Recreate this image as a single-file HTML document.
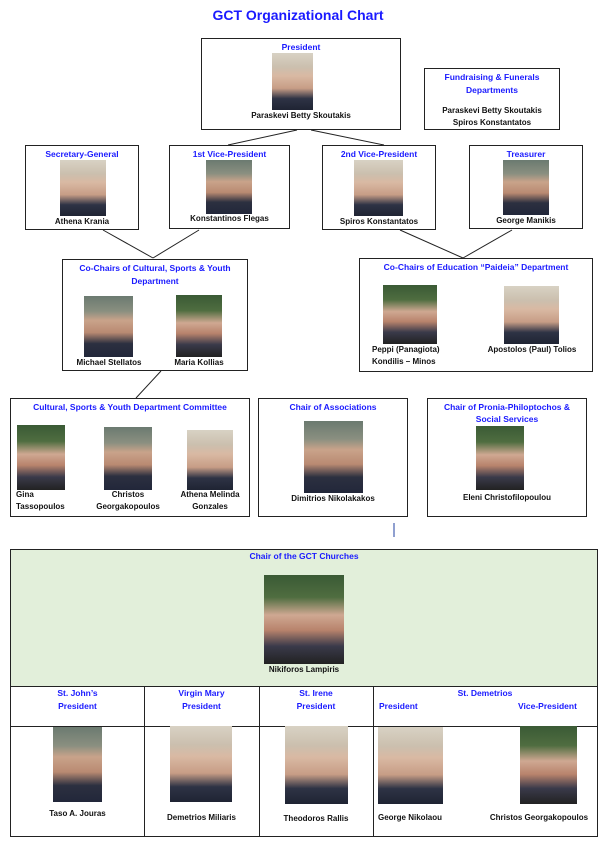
<!DOCTYPE html>
<html><head><meta charset="utf-8"><style>
*{margin:0;padding:0;box-sizing:border-box}
body{width:616px;height:850px;background:#fff;position:relative;overflow:hidden;font-family:"Liberation Sans",Arial,sans-serif;font-weight:bold}
.b{position:absolute;border:1px solid #222;background:#fff}
.t{position:absolute;color:#1a1aff;font-size:8.5px;text-align:center;white-space:nowrap;line-height:13px}
.n{position:absolute;color:#111;font-size:8px;text-align:center;white-space:nowrap;line-height:12px}
.p{position:absolute;background:linear-gradient(180deg,#6b7a70 0%,#8a8f80 25%,#c9a38a 40%,#b98a72 60%,#2c3040 78%,#22273a 100%)}
.p2{background:linear-gradient(180deg,#d8d2c4 0%,#cbbfae 25%,#d9b9a3 40%,#c79d86 62%,#2e3345 80%,#1f2433 100%)}
.p3{background:linear-gradient(180deg,#3a5a35 0%,#4f6d40 25%,#cfa892 45%,#b8836c 62%,#3a3a4a 80%,#222 100%)}
svg{position:absolute;left:0;top:0}
</style></head><body>
<div class="t" style="left:0;width:596px;top:6px;font-size:14px;line-height:18px">GCT Organizational Chart</div>

<svg width="616" height="850"><g stroke="#222" stroke-width="1" fill="none">
<line x1="228" y1="145" x2="297" y2="130"/><line x1="311" y1="130" x2="384" y2="145"/>
<line x1="103" y1="230" x2="153" y2="258"/><line x1="199" y1="230" x2="153" y2="258"/>
<line x1="400" y1="230" x2="463" y2="258"/><line x1="512" y1="230" x2="463" y2="258"/>
<line x1="161" y1="371" x2="136" y2="398"/>
</g><line x1="394" y1="523" x2="394" y2="537" stroke="#6a80c0" stroke-width="1.5"/></svg>

<div class="b" style="left:201px;top:38px;width:200px;height:92px"></div>
<div class="t" style="left:201px;width:200px;top:41px">President</div>
<div class="p p2" style="left:272px;top:53px;width:41px;height:57px"></div>
<div class="n" style="left:201px;width:200px;top:110px">Paraskevi Betty Skoutakis</div>

<div class="b" style="left:424px;top:68px;width:136px;height:62px"></div>
<div class="t" style="left:424px;width:136px;top:71px">Fundraising &amp; Funerals<br>Departments</div>
<div class="n" style="left:424px;width:136px;top:105px">Paraskevi Betty Skoutakis<br>Spiros Konstantatos</div>

<div class="b" style="left:25px;top:145px;width:114px;height:85px"></div>
<div class="t" style="left:25px;width:114px;top:148px">Secretary-General</div>
<div class="p p2" style="left:60px;top:160px;width:46px;height:56px"></div>
<div class="n" style="left:25px;width:114px;top:216px">Athena Krania</div>

<div class="b" style="left:169px;top:145px;width:121px;height:84px"></div>
<div class="t" style="left:169px;width:121px;top:148px">1st Vice-President</div>
<div class="p" style="left:206px;top:160px;width:46px;height:54px"></div>
<div class="n" style="left:169px;width:121px;top:213px">Konstantinos Flegas</div>

<div class="b" style="left:322px;top:145px;width:114px;height:85px"></div>
<div class="t" style="left:322px;width:114px;top:148px">2nd Vice-President</div>
<div class="p p2" style="left:354px;top:160px;width:49px;height:56px"></div>
<div class="n" style="left:322px;width:114px;top:216px">Spiros Konstantatos</div>

<div class="b" style="left:469px;top:145px;width:114px;height:84px"></div>
<div class="t" style="left:469px;width:114px;top:148px">Treasurer</div>
<div class="p" style="left:503px;top:160px;width:46px;height:55px"></div>
<div class="n" style="left:469px;width:114px;top:215px">George Manikis</div>

<div class="b" style="left:62px;top:259px;width:186px;height:112px"></div>
<div class="t" style="left:62px;width:186px;top:262px">Co-Chairs of Cultural, Sports &amp; Youth<br>Department</div>
<div class="p" style="left:84px;top:296px;width:49px;height:61px"></div>
<div class="p p3" style="left:176px;top:295px;width:46px;height:62px"></div>
<div class="n" style="left:68px;width:82px;top:357px">Michael Stellatos</div>
<div class="n" style="left:160px;width:78px;top:357px">Maria Kollias</div>

<div class="b" style="left:359px;top:258px;width:234px;height:114px"></div>
<div class="t" style="left:359px;width:234px;top:261px">Co-Chairs of Education “Paideia” Department</div>
<div class="p p3" style="left:383px;top:285px;width:54px;height:59px"></div>
<div class="p p2" style="left:504px;top:286px;width:55px;height:58px"></div>
<div class="n" style="left:372px;top:344px;text-align:left">Peppi (Panagiota)<br>Kondilis – Minos</div>
<div class="n" style="left:480px;width:104px;top:344px">Apostolos (Paul) Tolios</div>

<div class="b" style="left:10px;top:398px;width:240px;height:119px"></div>
<div class="t" style="left:10px;width:240px;top:401px">Cultural, Sports &amp; Youth Department Committee</div>
<div class="p p3" style="left:17px;top:425px;width:48px;height:65px"></div>
<div class="p" style="left:104px;top:427px;width:48px;height:63px"></div>
<div class="p p2" style="left:187px;top:430px;width:46px;height:60px"></div>
<div class="n" style="left:16px;top:489px;text-align:left">Gina<br>Tassopoulos</div>
<div class="n" style="left:78px;width:100px;top:489px">Christos<br>Georgakopoulos</div>
<div class="n" style="left:172px;width:76px;top:489px">Athena Melinda<br>Gonzales</div>

<div class="b" style="left:258px;top:398px;width:150px;height:119px"></div>
<div class="t" style="left:258px;width:150px;top:401px">Chair of Associations</div>
<div class="p" style="left:304px;top:421px;width:59px;height:72px"></div>
<div class="n" style="left:258px;width:150px;top:493px">Dimitrios Nikolakakos</div>

<div class="b" style="left:427px;top:398px;width:160px;height:119px"></div>
<div class="t" style="left:427px;width:160px;top:401px;line-height:12px">Chair of Pronia-Philoptochos &amp;<br>Social Services</div>
<div class="p p3" style="left:476px;top:426px;width:48px;height:64px"></div>
<div class="n" style="left:427px;width:160px;top:492px">Eleni Christofilopoulou</div>

<div class="b" style="left:10px;top:549px;width:588px;height:288px"></div>
<div style="position:absolute;left:11px;top:550px;width:586px;height:136px;background:#e2efda"></div>
<div style="position:absolute;left:11px;top:686px;width:586px;height:1px;background:#222"></div>
<div style="position:absolute;left:11px;top:726px;width:586px;height:1px;background:#222"></div>
<div style="position:absolute;left:144px;top:686px;width:1px;height:150px;background:#222"></div>
<div style="position:absolute;left:259px;top:686px;width:1px;height:150px;background:#222"></div>
<div style="position:absolute;left:373px;top:686px;width:1px;height:150px;background:#222"></div>
<div class="t" style="left:10px;width:588px;top:550px">Chair of the GCT Churches</div>
<div class="p p3" style="left:264px;top:575px;width:80px;height:89px"></div>
<div class="n" style="left:10px;width:588px;top:664px">Nikiforos Lampiris</div>

<div class="t" style="left:11px;width:133px;top:687px">St. John’s<br>President</div>
<div class="t" style="left:144px;width:115px;top:687px">Virgin Mary<br>President</div>
<div class="t" style="left:259px;width:114px;top:687px">St. Irene<br>President</div>
<div class="t" style="left:373px;width:224px;top:687px">St. Demetrios</div>
<div class="t" style="left:379px;top:700px">President</div>
<div class="t" style="left:518px;top:700px">Vice-President</div>

<div class="p" style="left:53px;top:727px;width:49px;height:75px"></div>
<div class="p p2" style="left:170px;top:726px;width:62px;height:76px"></div>
<div class="p p2" style="left:285px;top:726px;width:63px;height:78px"></div>
<div class="p p2" style="left:378px;top:727px;width:65px;height:77px"></div>
<div class="p p3" style="left:520px;top:726px;width:57px;height:78px"></div>
<div class="n" style="left:11px;width:133px;top:808px">Taso A. Jouras</div>
<div class="n" style="left:144px;width:115px;top:812px">Demetrios Miliaris</div>
<div class="n" style="left:259px;width:114px;top:813px">Theodoros Rallis</div>
<div class="n" style="left:378px;top:812px">George Nikolaou</div>
<div class="n" style="left:482px;width:114px;top:812px">Christos Georgakopoulos</div>
</body></html>
